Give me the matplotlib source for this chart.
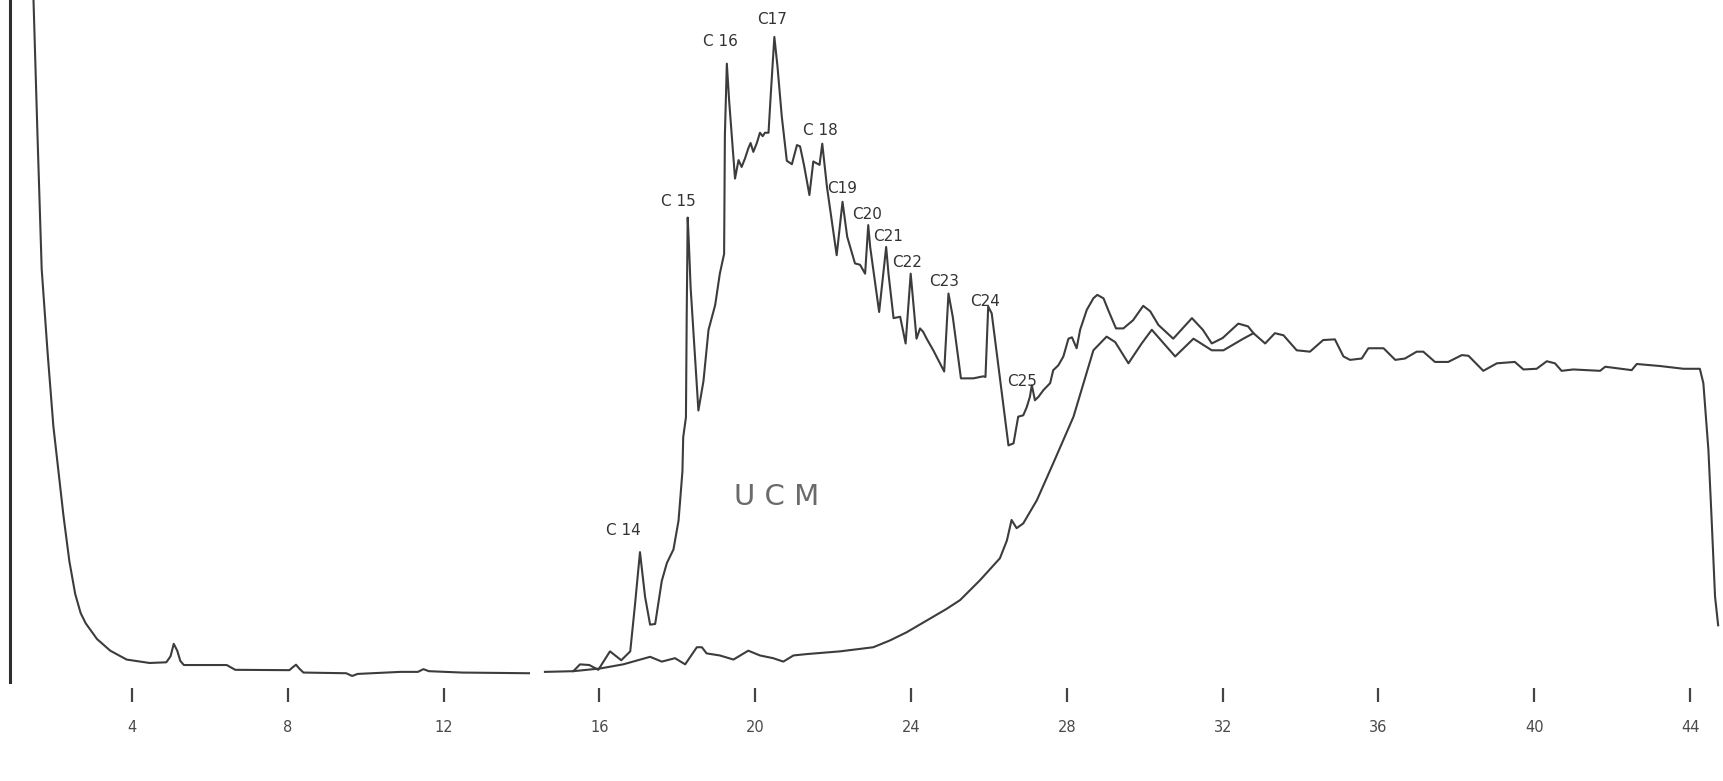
import numpy as np
import matplotlib.pyplot as plt

# Gas chromatogram: retention time (min) vs detector response (% of chart width)

# solvent front and early baseline (before the pen break)
early_time = [1.47, 1.57, 1.68, 1.83, 1.98, 2.24, 2.39, 2.54, 2.68, 2.81, 3.10, 3.44,
              3.86, 4.45, 4.88, 4.99, 5.07, 5.16, 5.24, 5.33, 6.43, 6.65, 8.04, 8.12,
              8.21, 8.29, 8.40, 9.50, 9.65, 9.79, 10.89, 11.34, 11.48, 11.62, 12.47, 14.19]
early_resp = [100.0, 80.7, 60.7, 48.6, 37.7, 24.6, 18.0, 13.2, 10.4, 8.9, 6.6, 4.9,
              3.6, 3.1, 3.2, 4.1, 5.9, 4.9, 3.4, 2.8, 2.8, 2.1, 2.05, 2.45,
              2.85, 2.3, 1.7, 1.6, 1.2, 1.5, 1.8, 1.8, 2.2, 1.9, 1.7, 1.6]

# sample trace (n-alkanes riding on the hump)
sample_time = [14.60, 15.33, 15.50, 15.74, 15.97, 16.27, 16.56, 16.79, 16.91, 17.04,
               17.17, 17.30, 17.43, 17.60, 17.73, 17.90, 18.03, 18.13, 18.15, 18.22,
               18.24, 18.265, 18.30, 18.34, 18.54, 18.67, 18.80, 18.97, 19.09, 19.20,
               19.22, 19.27, 19.33, 19.48, 19.57, 19.65, 19.74, 19.82, 19.88, 19.95,
               20.04, 20.12, 20.19, 20.25, 20.34, 20.40, 20.49, 20.57, 20.68, 20.81,
               20.94, 21.07, 21.15, 21.25, 21.39, 21.49, 21.65, 21.72, 21.84, 22.09,
               22.24, 22.36, 22.56, 22.69, 22.82, 22.90, 22.95, 23.18, 23.36, 23.42,
               23.55, 23.72, 23.86, 23.99, 24.08, 24.14, 24.23, 24.31, 24.40, 24.57,
               24.85, 24.96, 25.07, 25.28, 25.60, 25.855, 25.91, 25.98, 26.07, 26.50,
               26.63, 26.75, 26.88, 26.97, 27.05, 27.10, 27.18, 27.27, 27.40, 27.57,
               27.65, 27.78, 27.91, 28.04, 28.13, 28.25, 28.34, 28.51, 28.68, 28.78,
               28.94, 29.06, 29.26, 29.45, 29.70, 29.96, 30.14, 30.35, 30.73, 31.21,
               31.49, 31.72, 32.00, 32.40, 32.65, 32.79, 33.09, 33.34, 33.56, 33.90,
               34.24, 34.58, 34.88, 35.10, 35.27, 35.57, 35.74, 36.13, 36.43, 36.68,
               36.98, 37.15, 37.45, 37.79, 38.14, 38.31, 38.69, 39.04, 39.50, 39.72,
               40.06, 40.32, 40.53, 40.70, 41.00, 41.69, 41.82, 42.50, 42.63, 43.23,
               43.83, 44.25, 44.34, 44.47, 44.55, 44.64, 44.72]
sample_resp = [1.8, 1.9, 2.9, 2.8, 2.1, 4.8, 3.5, 4.8, 11.5, 19.3,
               12.8, 8.7, 8.8, 15.1, 17.7, 19.7, 23.9, 31.1, 36.1, 39.0,
               54.1, 68.2, 63.8, 58.0, 40.0, 44.3, 51.8, 55.4, 60.0, 62.9,
               80.3, 90.7, 85.2, 73.9, 76.6, 75.6, 76.9, 78.3, 79.1, 77.8,
               79.1, 80.6, 80.1, 80.6, 80.6, 86.4, 94.6, 90.3, 83.0, 76.5,
               76.0, 78.8, 78.6, 75.9, 71.5, 76.4, 75.9, 79.0, 72.7, 62.7,
               70.5, 65.4, 61.5, 61.3, 60.0, 67.1, 63.9, 54.4, 63.9, 60.0,
               53.5, 53.7, 49.8, 60.0, 54.2, 50.5, 52.0, 51.5, 50.5, 48.8,
               45.7, 57.1, 53.7, 44.7, 44.7, 45.0, 44.9, 55.2, 54.2, 34.9,
               35.2, 39.1, 39.3, 40.5, 42.0, 43.7, 41.5, 42.0, 43.0, 44.0,
               45.9, 46.6, 47.9, 50.5, 50.7, 49.1, 51.8, 54.7, 56.4, 56.9,
               56.4, 54.7, 52.0, 52.0, 53.2, 55.3, 54.5, 52.5, 50.5, 53.5,
               51.8, 49.8, 50.6, 52.7, 52.3, 51.3, 49.8, 51.3, 51.0, 48.8,
               48.6, 50.3, 50.4, 47.9, 47.4, 47.6, 49.1, 49.1, 47.4, 47.6,
               48.6, 48.6, 47.1, 47.1, 48.1, 48.0, 45.8, 46.9, 47.1, 46.0,
               46.1, 47.2, 46.9, 45.8, 46.0, 45.8, 46.4, 45.9, 46.8, 46.5,
               46.1, 46.1, 44.0, 34.2, 24.4, 12.8, 8.6]

# lower envelope (unresolved complex mixture baseline)
blank_time = [15.33, 16.02, 16.61, 17.30, 17.60, 17.94, 18.20, 18.50, 18.63, 18.75,
              19.09, 19.44, 19.82, 20.12, 20.46, 20.72, 20.98, 21.32, 22.18, 23.03,
              23.46, 23.89, 24.40, 24.91, 25.26, 25.77, 26.28, 26.46, 26.58, 26.71,
              26.88, 27.23, 27.65, 28.17, 28.68, 29.02, 29.24, 29.58, 29.92, 30.18,
              30.78, 31.25, 31.72, 32.02, 32.53, 32.79]
blank_resp = [1.9, 2.3, 2.9, 4.0, 3.3, 3.8, 2.9, 5.4, 5.4, 4.5,
              4.2, 3.6, 4.9, 4.2, 3.8, 3.3, 4.2, 4.4, 4.8, 5.4,
              6.4, 7.6, 9.3, 11.0, 12.3, 15.2, 18.4, 21.0, 24.0, 22.8,
              23.5, 26.9, 32.3, 39.1, 48.8, 50.8, 50.0, 46.9, 49.8, 51.8,
              47.9, 50.5, 48.8, 48.8, 50.5, 51.3]

peak_names = ["C 14", "C 15", "C 16", "C17", "C 18", "C19", "C20", "C21", "C22",
              "C23", "C24", "C25"]
label_time = [16.62, 18.03, 19.10, 20.44, 21.66, 22.22, 22.88, 23.40, 23.89,
              24.85, 25.90, 26.84]
label_resp = [22.4, 70.6, 93.9, 97.1, 80.9, 72.5, 68.7, 65.4, 61.6, 58.8, 56.0, 44.2]

tick_minutes = [4, 8, 12, 16, 20, 24, 28, 32, 36, 40, 44]

ink = '#3c3c3c'

fig = plt.figure(figsize=(17.24, 7.81), dpi=100)
fig.patch.set_facecolor('white')
ax = fig.add_axes([0, 0, 1, 1])
ax.set_xlim(0.61, 44.87)
ax.set_ylim(-14.15, 100)
ax.axis('off')

# chart edge on the left
ax.plot([0.87, 0.87], [0.3, 100], color='#2e2e2e', lw=2.2)

ax.plot(early_time, early_resp, color=ink, lw=1.5)
ax.plot(sample_time, sample_resp, color=ink, lw=1.5)
ax.plot(blank_time, blank_resp, color=ink, lw=1.5)

for name, t, r in zip(peak_names, label_time, label_resp):
    ax.text(t, r, name, ha='center', va='center', fontsize=11, color='#333333')

ax.text(20.54, 27.3, "U C M", ha='center', va='center', fontsize=21, color='#6a6a6a')

# time axis: tick marks and minute labels
ax.vlines(tick_minutes, -2.6, -0.6, color='#444444', lw=1.6)
for m in tick_minutes:
    ax.text(m, -6.4, str(m), ha='center', va='center', fontsize=10.5, color='#4a4a4a')

fig.savefig('out.png', dpi=100)
